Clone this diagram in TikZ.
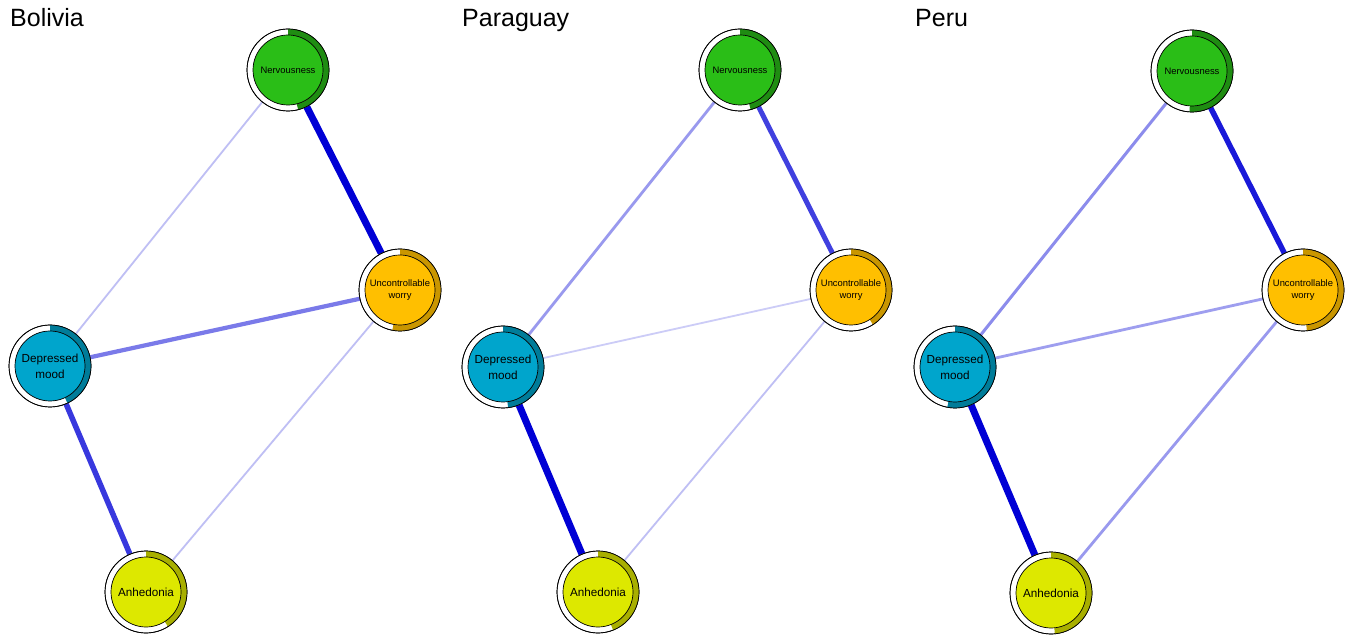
\documentclass[tikz,border=0pt]{standalone}
\usepackage{fontspec}
\setmainfont{Liberation Sans}
\usetikzlibrary{calc}
\pgfdeclarelayer{bg}
\pgfsetlayers{bg,main}
\definecolor{qblue}{HTML}{0000D5}
\definecolor{nfill}{HTML}{2ABE17}
\definecolor{ndark}{HTML}{1F8C12}
\definecolor{ufill}{HTML}{FFBF00}
\definecolor{udark}{HTML}{C99600}
\definecolor{dfill}{HTML}{00A5CC}
\definecolor{ddark}{HTML}{007C99}
\definecolor{afill}{HTML}{DDE800}
\definecolor{adark}{HTML}{A8AF00}
\tikzset{
  outerc/.style={circle,minimum size=82pt,inner sep=0pt,draw=black,line width=0.7pt,fill=white},
  smalllab/.style={font=\fontsize{9.4}{12.3}\selectfont},
  biglab/.style={font=\fontsize{11.7}{15.7}\selectfont},
  title/.style={anchor=base west,inner sep=0pt,font=\fontsize{25}{30}\selectfont},
  edge/.style 2 args={line width=#1pt,draw=qblue!#2!white}
}
\newcommand\pienode[8]{%
  \node[outerc] (#1) at (#2,#3) {};
  \fill[#6] ($(#1.center)+(90:41pt)$) arc[start angle=90,delta angle={-360*#4},radius=41pt]
     -- ($(#1.center)+({90-360*#4}:35pt)$) arc[start angle={90-360*#4},delta angle={360*#4},radius=35pt] -- cycle;
  \draw[black,line width=0.7pt] (#1.center) circle[radius=41pt];
  \filldraw[fill=#5,draw=black,line width=0.7pt] (#1.center) circle[radius=35pt];
  \node[align=center,inner sep=0pt,#8] (#1-lab) at (#1.center) {#7};
}
\begin{document}
\begin{tikzpicture}[x=1pt,y=1pt]
\useasboundingbox (0,0) rectangle (1349,635);
% titles
\node[title] (tB) at (10,608) {Bolivia};
\node[title] (tP) at (462,608) {Paraguay};
\node[title] (tR) at (915,608) {Peru};
% Bolivia
\pienode{bN}{288}{565}{0.46}{nfill}{ndark}{Nervousness}{smalllab}
\pienode{bU}{400}{345}{0.53}{ufill}{udark}{Uncontrollable\\worry}{smalllab}
\pienode{bD}{50}{269}{0.43}{dfill}{ddark}{Depressed\\mood}{biglab}
\pienode{bA}{146}{43}{0.41}{afill}{adark}{Anhedonia}{biglab}
% Paraguay
\pienode{pN}{740}{565}{0.458}{nfill}{ndark}{Nervousness}{smalllab}
\pienode{pU}{851}{345}{0.41}{ufill}{udark}{Uncontrollable\\worry}{smalllab}
\pienode{pD}{503}{268}{0.48}{dfill}{ddark}{Depressed\\mood}{biglab}
\pienode{pA}{598}{43}{0.44}{afill}{adark}{Anhedonia}{biglab}
% Peru
\pienode{rN}{1192}{564}{0.51}{nfill}{ndark}{Nervousness}{smalllab}
\pienode{rU}{1303}{345}{0.485}{ufill}{udark}{Uncontrollable\\worry}{smalllab}
\pienode{rD}{955}{268}{0.53}{dfill}{ddark}{Depressed\\mood}{biglab}
\pienode{rA}{1051}{42}{0.485}{afill}{adark}{Anhedonia}{biglab}
\begin{pgfonlayer}{bg}
\fill[white] (0,0) rectangle (1349,635);
% Bolivia edges
\draw[edge={7}{100}] (bN) -- (bU);
\draw[edge={1.8}{25}] (bD) -- (bN);
\draw[edge={4.2}{52}] (bD) -- (bU);
\draw[edge={5.5}{78}] (bD) -- (bA);
\draw[edge={1.8}{25}] (bU) -- (bA);
% Paraguay edges
\draw[edge={5}{75}] (pN) -- (pU);
\draw[edge={2.8}{40}] (pD) -- (pN);
\draw[edge={1.8}{20}] (pD) -- (pU);
\draw[edge={7}{100}] (pD) -- (pA);
\draw[edge={1.8}{25}] (pU) -- (pA);
% Peru edges
\draw[edge={5.5}{90}] (rN) -- (rU);
\draw[edge={3}{45}] (rD) -- (rN);
\draw[edge={2.8}{38}] (rD) -- (rU);
\draw[edge={7}{100}] (rD) -- (rA);
\draw[edge={2.8}{40}] (rU) -- (rA);
\end{pgfonlayer}
\end{tikzpicture}
\end{document}
